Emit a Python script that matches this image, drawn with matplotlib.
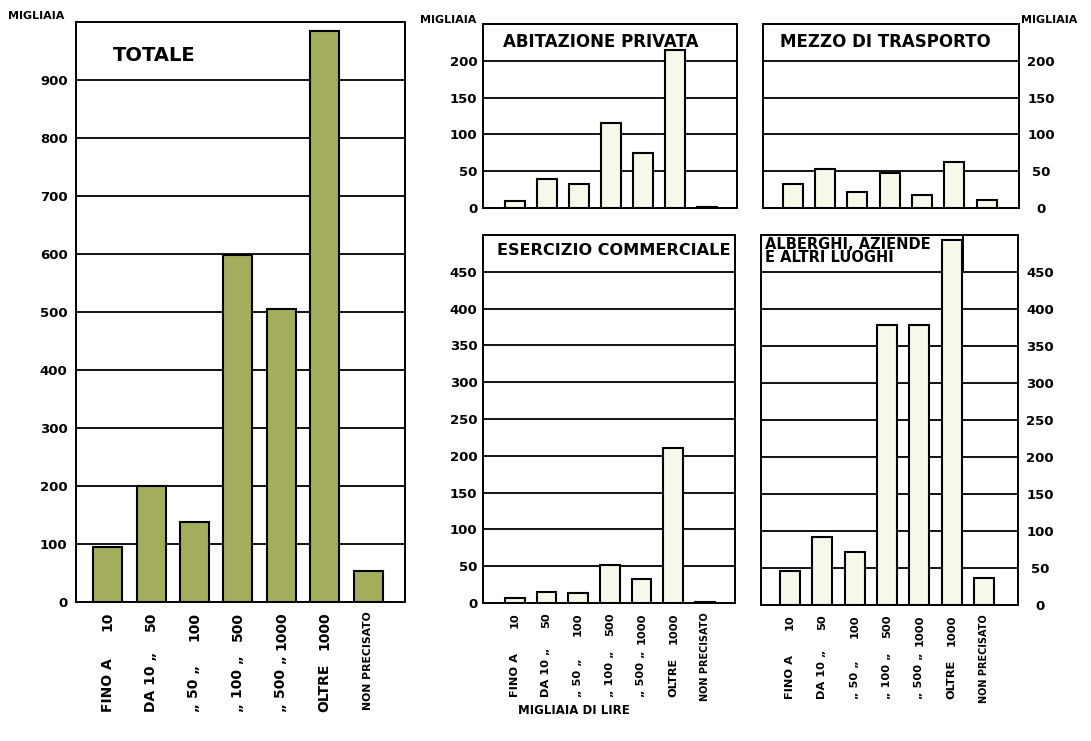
import matplotlib
matplotlib.use("Agg")
import matplotlib.pyplot as plt
import numpy as np

plt.rcParams['font.family'] = ['DejaVu Sans']
plt.rcParams['font.weight'] = 'bold'

# ---- data ----
cat_prefix = ["FINO A", "DA 10 \u201e", "\u201e 50 \u201e", "\u201e 100 \u201e", "\u201e 500 \u201e", "OLTRE", "NON PRECISATO"]
cat_suffix = ["10", "50", "100", "500", "1000", "1000", ""]

totale = [94, 200, 138, 598, 506, 985, 53]
abitazione = [9, 39, 33, 116, 75, 215, 2]
mezzo = [33, 53, 22, 48, 18, 63, 11]
esercizio = [7, 15, 13, 52, 32, 210, 1.5]
alberghi = [46, 92, 72, 378, 379, 493, 37]

ticks_totale = [0, 100, 200, 300, 400, 500, 600, 700, 800, 900]
ticks_small = [0, 50, 100, 150, 200]
ticks_large = [0, 50, 100, 150, 200, 250, 300, 350, 400, 450]

OLIVE = "#a4ad5c"
CREAM = "#f7f7ea"

W, H = 1091, 741
fig = plt.figure(figsize=(W / 100, H / 100), dpi=100)
fig.patch.set_facecolor("white")


def ax_at(x0, y0, x1, y1):
    return fig.add_axes([x0 / W, 1 - y1 / H, (x1 - x0) / W, (y1 - y0) / H])


def setup(ax, values, color, ymax, ticks, xlim, width, right=False, fs=9.5, pad=6):
    x = np.arange(len(values))
    ax.set_xlim(*xlim)
    ax.set_ylim(0, ymax)
    for t in ticks[1:]:
        ax.axhline(t, color="black", lw=1.3, zorder=1)
    ax.bar(x, values, width=width, color=color, edgecolor="black", lw=1.5, zorder=3)
    for s in ax.spines.values():
        s.set_linewidth(1.4)
        s.set_color("black")
    ax.set_xticks([])
    ax.set_yticks(ticks)
    ax.set_yticklabels([str(t) for t in ticks], fontsize=fs, fontweight="bold")
    if right:
        ax.yaxis.tick_right()
        ax.tick_params(axis="y", length=0, pad=pad)
        for lab in ax.get_yticklabels():
            lab.set_horizontalalignment("center")
    else:
        ax.tick_params(axis="y", length=0, pad=pad)
    ax.set_facecolor("white")
    return x


def cat_labels(ax, x, top_off, bottom_off, fs, fs_np):
    for i, (p, s) in enumerate(zip(cat_prefix, cat_suffix)):
        if s == "":
            ax.annotate(p, xy=(x[i], 0), xycoords=("data", "axes fraction"),
                        xytext=(0, top_off), textcoords="offset points",
                        rotation=90, ha="center", va="top", fontsize=fs_np,
                        fontweight="bold", annotation_clip=False)
        else:
            ax.annotate(s, xy=(x[i], 0), xycoords=("data", "axes fraction"),
                        xytext=(0, top_off), textcoords="offset points",
                        rotation=90, ha="center", va="top", fontsize=fs,
                        fontweight="bold", annotation_clip=False)
            ax.annotate(p, xy=(x[i], 0), xycoords=("data", "axes fraction"),
                        xytext=(0, bottom_off), textcoords="offset points",
                        rotation=90, ha="center", va="bottom", fontsize=fs,
                        fontweight="bold", annotation_clip=False)


# ---- TOTALE ----
ax1 = ax_at(76, 22, 405, 602)
x1 = setup(ax1, totale, OLIVE, 1000, ticks_totale, (-0.73, 6.85), 0.67, fs=9.5, pad=6)
ax1.text(0.112, 0.943, "TOTALE", transform=ax1.transAxes, fontsize=14,
         fontweight="bold", ha="left", va="center")
cat_labels(ax1, x1, -7, -79, 10, 7.8)
fig.text(8 / W, 1 - 16 / H, "MIGLIAIA", fontsize=8, fontweight="bold", ha="left", va="center")

# ---- ABITAZIONE PRIVATA ----
ax2 = ax_at(483, 24, 737, 208)
setup(ax2, abitazione, CREAM, 250, ticks_small, (-1.0, 6.95), 0.62, fs=9.5, pad=4)
ax2.text(0.079, 0.90, "ABITAZIONE PRIVATA", transform=ax2.transAxes, fontsize=12,
         fontweight="bold", ha="left", va="center")
fig.text(420 / W, 1 - 20 / H, "MIGLIAIA", fontsize=8, fontweight="bold", ha="left", va="center")

# ---- MEZZO DI TRASPORTO ----
ax3 = ax_at(763, 24, 1019, 208)
setup(ax3, mezzo, CREAM, 250, ticks_small, (-0.92, 7.0), 0.62, right=True, fs=9.5, pad=16)
ax3.text(0.066, 0.90, "MEZZO DI TRASPORTO", transform=ax3.transAxes, fontsize=12,
         fontweight="bold", ha="left", va="center")
fig.text(1021 / W, 1 - 20 / H, "MIGLIAIA", fontsize=8, fontweight="bold", ha="left", va="center")

# ---- ESERCIZIO COMMERCIALE ----
ax4 = ax_at(483, 235, 735, 603)
x4 = setup(ax4, esercizio, CREAM, 500, ticks_large, (-1.0, 6.95), 0.62, fs=9.5, pad=4)
ax4.text(0.056, 0.957, "ESERCIZIO COMMERCIALE", transform=ax4.transAxes, fontsize=11.6,
         fontweight="bold", ha="left", va="center")
cat_labels(ax4, x4, -7, -68, 8.2, 7)

# ---- ALBERGHI ----
ax5 = ax_at(761, 235, 1018, 605)
x5 = setup(ax5, alberghi, CREAM, 500, ticks_large, (-0.9, 7.05), 0.62, right=True, fs=9.5, pad=16)
ax5.plot([5.35, 5.35], [450, 500], color="black", lw=1.4, zorder=2)
ax5.text(0.016, 0.995, "ALBERGHI, AZIENDE\nE ALTRI LUOGHI", transform=ax5.transAxes,
         fontsize=10.5, fontweight="bold", ha="left", va="top", linespacing=0.85, zorder=2)
cat_labels(ax5, x5, -7, -68, 8.2, 7)

fig.text(518 / W, 1 - 711 / H, "MIGLIAIA DI LIRE", fontsize=8.5, fontweight="bold",
         ha="left", va="center")

fig.savefig("out.png", dpi=100)
